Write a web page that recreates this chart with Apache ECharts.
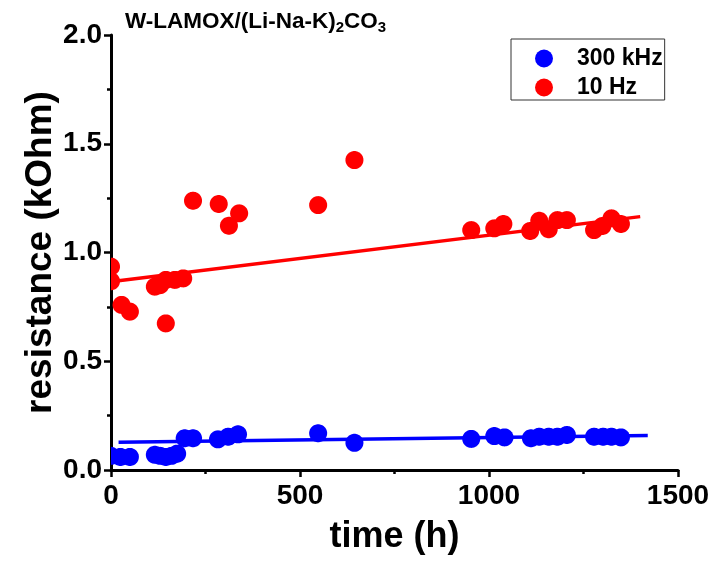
<!DOCTYPE html>
<html>
<head>
<meta charset="utf-8">
<script src="https://cdn.jsdelivr.net/npm/echarts@6/dist/echarts.min.js"></script>
<style>
html,body{margin:0;padding:0;background:#fff;}
#chart{width:718px;height:567px;}
</style>
</head>
<body>
<div id="chart"></div>
<script>
// time (h) and resistance (kOhm)
const time300k = [0, 25, 50, 116, 130, 145, 160, 175, 195, 217, 283, 310, 336, 548, 644, 953, 1014, 1041, 1111, 1133, 1158, 1181, 1206, 1278, 1302, 1324, 1349];
const res300k  = [0.065, 0.06, 0.06, 0.07, 0.065, 0.06, 0.065, 0.075, 0.146, 0.146, 0.141, 0.153, 0.164, 0.169, 0.125, 0.143, 0.156, 0.150, 0.146, 0.153, 0.153, 0.153, 0.161, 0.153, 0.153, 0.153, 0.150];
const time10 = [0, 0, 28, 50, 116, 130, 145, 145, 169, 191, 217, 285, 312, 339, 548, 644, 953, 1014, 1038, 1109, 1133, 1158, 1181, 1206, 1278, 1300, 1324, 1349];
const res10  = [0.935, 0.868, 0.759, 0.728, 0.843, 0.850, 0.874, 0.674, 0.874, 0.881, 1.238, 1.223, 1.123, 1.180, 1.218, 1.425, 1.103, 1.111, 1.131, 1.099, 1.146, 1.107, 1.149, 1.149, 1.103, 1.122, 1.157, 1.131];
// linear fits (endpoints)
const fitTime300k = [20, 1420];
const fitRes300k  = [0.128, 0.159];
const fitTime10 = [20, 1400];
const fitRes10  = [0.870, 1.165];
const xTicks = [0, 500, 1000, 1500];
const yTicks = [0.0, 0.5, 1.0, 1.5, 2.0];
const seriesNames = ['300 kHz', '10 Hz'];

const zip = (a, b) => a.map((v, i) => [v, b[i]]);
const FONT = 'Liberation Sans, Arial, sans-serif';

function dotRenderer(color) {
  return function (params, api) {
    const p = api.coord([api.value(0), api.value(1)]);
    const cs = params.coordSys;
    const pts = [];
    const n = 64, r = 9;
    for (let i = 0; i < n; i++) {
      const a = (i / n) * Math.PI * 2;
      pts.push([p[0] + r * Math.cos(a), p[1] + r * Math.sin(a)]);
    }
    const clipped = echarts.graphic.clipPointsByRect(pts, { x: cs.x, y: cs.y, width: cs.width, height: cs.height });
    return { type: 'polygon', shape: { points: clipped }, style: { fill: color } };
  };
}

const chart = echarts.init(document.getElementById('chart'));
chart.setOption({
  animation: false,
  backgroundColor: '#fff',
  title: {
    text: '{a|W-LAMOX/(Li-Na-K)}{s|2}{a|CO}{s|3}',
    left: 120, top: 3,
    textStyle: {
      rich: {
        a: { fontFamily: FONT, fontWeight: 'bold', fontSize: 22.5, color: '#000' },
        s: { fontFamily: FONT, fontWeight: 'bold', fontSize: 15, color: '#000', padding: [12, 0, 0, 0] }
      }
    }
  },
  legend: {
    data: [{ name: seriesNames[0], icon: 'circle' }, { name: seriesNames[1], icon: 'circle' }],
    orient: 'vertical',
    left: 511, top: 39,
    itemWidth: 56, itemHeight: 18, itemGap: 6,
    padding: [8, 2, 1, 24],
    borderColor: '#333', borderWidth: 1,
    textStyle: { fontFamily: FONT, fontWeight: 'bold', fontSize: 23, lineHeight: 20, color: '#000' }
  },
  grid: { left: 111, right: 40, top: 35, bottom: 97 },
  xAxis: {
    type: 'value', min: xTicks[0], max: xTicks[xTicks.length - 1], interval: 500,
    name: 'time (h)', nameLocation: 'middle', nameGap: 49,
    nameTextStyle: { fontFamily: FONT, fontWeight: 'bold', fontSize: 36, color: '#000' },
    axisLine: { lineStyle: { color: '#000', width: 3 } },
    axisTick: { length: 7, lineStyle: { color: '#000', width: 2.5 } },
    minorTick: { show: true, splitNumber: 2, length: 4, lineStyle: { color: '#000', width: 2.5 } },
    splitLine: { show: false },
    axisLabel: { fontFamily: FONT, fontWeight: 'bold', fontSize: 28, color: '#000', margin: 12,
      formatter: v => String(v) }
  },
  yAxis: {
    type: 'value', min: yTicks[0], max: yTicks[yTicks.length - 1], interval: 0.5,
    name: 'resistance (kOhm)', nameLocation: 'middle', nameGap: 52, nameMoveOverlap: false,
    nameTextStyle: { fontFamily: FONT, fontWeight: 'bold', fontSize: 37, color: '#000' },
    axisLine: { show: true, lineStyle: { color: '#000', width: 3 } },
    axisTick: { show: true, length: 7, lineStyle: { color: '#000', width: 2.5 } },
    minorTick: { show: true, splitNumber: 2, length: 4, lineStyle: { color: '#000', width: 2.5 } },
    splitLine: { show: false },
    axisLabel: { fontFamily: FONT, fontWeight: 'bold', fontSize: 28, color: '#000', margin: 9,
      formatter: v => v.toFixed(1) }
  },
  series: [
    { name: 'fit300k', type: 'line', data: zip(fitTime300k, fitRes300k), symbol: 'none', z: 2,
      lineStyle: { color: '#0000ff', width: 3.5 }, silent: true },
    { name: 'fit10', type: 'line', data: zip(fitTime10, fitRes10), symbol: 'none', z: 2,
      lineStyle: { color: '#ff0000', width: 3.5 }, silent: true },
    { name: seriesNames[0], type: 'custom', data: zip(time300k, res300k), clip: true, z: 3,
      encode: { x: 0, y: 1 }, itemStyle: { color: '#0000ff' }, renderItem: dotRenderer('#0000ff') },
    { name: seriesNames[1], type: 'custom', data: zip(time10, res10), clip: true, z: 3,
      encode: { x: 0, y: 1 }, itemStyle: { color: '#ff0000' }, renderItem: dotRenderer('#ff0000') }
  ]
});
</script>
</body>
</html>
